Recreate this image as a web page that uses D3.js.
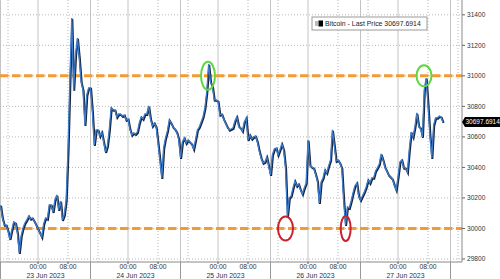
<!DOCTYPE html>
<html>
<head>
<meta charset="utf-8">
<title>Bitcoin - Last Price</title>
<script src="https://d3js.org/d3.v7.min.js"></script>
<style>
  body { margin: 0; background: #fff; }
  text { font-family: "Liberation Sans", Arial, sans-serif; fill: #333; }
</style>
</head>
<body>
<div id="chart"></div>
<script>
// series: one price every 30 minutes, starting 22 Jun 14:00
var seriesStart = "2023-06-22T14:00:00Z";
var stepMinutes = 30;
var prices = [
  30154, 30069, 30023, 30023, 29984, 29931, 29990, 30043, 30036, 29971,
  29840, 29951, 30004, 30036, 30056, 30082, 30063, 30069, 30049, 30023,
  29997, 29971, 29945, 30030, 30069, 30063, 30154, 30154, 30108, 30187,
  30220, 30122, 30180, 30056, 30089, 30187, 30515, 30973, 31379, 30908,
  31137, 31248, 31117, 30960, 30908, 30678, 30875, 30921, 30921, 30763,
  30547, 30646, 30646, 30606, 30632, 30567, 30501, 30541, 30646, 30790,
  30777, 30777, 30731, 30750, 30750, 30737, 30744, 30711, 30718, 30652,
  30613, 30626, 30619, 30632, 30691, 30731, 30718, 30750, 30750, 30803,
  30718, 30672, 30691, 30665, 30560, 30449, 30331, 30528, 30593, 30639,
  30711, 30691, 30665, 30652, 30632, 30587, 30462, 30567, 30593, 30560,
  30580, 30567, 30554, 30521, 30580, 30646, 30665, 30698, 30731, 30790,
  30894, 31078, 30960, 30934, 30842, 30842, 30835, 30744, 30750, 30718,
  30691, 30665, 30646, 30652, 30659, 30704, 30731, 30672, 30659, 30639,
  30698, 30724, 30580, 30613, 30587, 30600, 30606, 30567, 30508, 30462,
  30429, 30436, 30469, 30410, 30351, 30482, 30521, 30528, 30482, 30515,
  30554, 30515, 30397, 30080, 30200, 30213, 30266, 30311, 30279, 30292,
  30253, 30226, 30266, 30298, 30580, 30416, 30403, 30397, 30357, 30311,
  30167, 30305, 30331, 30384, 30364, 30410, 30449, 30646, 30547, 30442,
  30449, 30429, 30397, 30187, 30023, 30141, 30135, 30180, 30233, 30279,
  30298, 30213, 30187, 30213, 30239, 30272, 30318, 30298, 30331, 30331,
  30377, 30397, 30423, 30488, 30449, 30403, 30377, 30351, 30338, 30325,
  30285, 30253, 30338, 30436, 30449, 30397, 30397, 30370, 30515, 30632,
  30600, 30665, 30757, 30672, 30659, 30600, 30908, 30986, 30809, 30613,
  30462, 30678, 30724, 30724, 30737, 30731, 30697.6914
];
var lastPrice = "30697.6914";
var yTicks = [29800, 30000, 30200, 30400, 30600, 30800, 31000, 31200, 31400];
var levels = [31000, 30000];
var tops = [
  { t: "2023-06-24T21:20:00Z", v: 31000, rx: 7, ry: 14 },
  { t: "2023-06-27T06:56:00Z", v: 31000, rx: 7.5, ry: 10.5 }
];
var bottoms = [
  { t: "2023-06-25T18:00:00Z", v: 30000, rx: 7.5, ry: 12 },
  { t: "2023-06-26T10:03:00Z", v: 30000, rx: 5, ry: 12.5 }
];
var dayLabels = ["23 Jun 2023", "24 Jun 2023", "25 Jun 2023", "26 Jun 2023", "27 Jun 2023"];
var hourLabels = ["00:00", "08:00"];

var width = 500, height = 279;
var plotRight = 462, plotBottom = 262;

var svg = d3.select("#chart").append("svg")
    .attr("width", width)
    .attr("height", height);

var x = d3.scaleUtc()
    .domain([new Date("2023-06-22T13:52:00Z"), new Date("2023-06-27T17:04:00Z")])
    .range([0, plotRight]);
var y = d3.scaleLinear()
    .domain([29800, 31400])
    .range([259, 14.8]);

var t0 = new Date(seriesStart);
var data = prices.map(function(p, i) {
  return { t: new Date(+t0 + i * stepMinutes * 60000), v: p };
});

// vertical grid
var days = d3.utcDay.range(new Date("2023-06-22T00:00:00Z"), new Date("2023-06-28T00:00:00Z"));
days.forEach(function(d) {
  [0, 14].forEach(function(h) {
    var xx = x(d3.utcHour.offset(d, h));
    if (xx < 0 || xx > plotRight) return;
    svg.append("line")
      .attr("x1", xx).attr("x2", xx).attr("y1", 0).attr("y2", plotBottom)
      .attr("stroke", "#c4c4c4").attr("stroke-width", 1);
  });
  [8, 16].forEach(function(h) {
    var xx = x(d3.utcHour.offset(d, h));
    if (xx < 0 || xx > plotRight) return;
    svg.append("line")
      .attr("x1", xx).attr("x2", xx).attr("y1", 0).attr("y2", plotBottom)
      .attr("stroke", "#b8b8b8").attr("stroke-width", 1)
      .attr("stroke-dasharray", "1,2");
  });
});

// horizontal grid
svg.selectAll(".hgrid")
  .data(yTicks)
  .enter().append("line")
  .attr("x1", 0).attr("x2", plotRight)
  .attr("y1", function(d) { return y(d); })
  .attr("y2", function(d) { return y(d); })
  .attr("stroke", "#b8b8b8")
  .attr("stroke-dasharray", "1,2");

// orange levels
svg.selectAll(".level")
  .data(levels)
  .enter().append("line")
  .attr("x1", 0).attr("x2", plotRight)
  .attr("y1", function(d) { return y(d); })
  .attr("y2", function(d) { return y(d); })
  .attr("stroke", "#f29a34")
  .attr("stroke-width", 3)
  .attr("stroke-dasharray", "8.5,3.5");

// price line
var line = d3.line()
    .x(function(d) { return x(d.t); })
    .y(function(d) { return y(d.v); });

svg.append("path")
  .datum(data)
  .attr("d", line)
  .attr("fill", "none")
  .attr("stroke", "#15223a")
  .attr("stroke-width", 2)
  .attr("transform", "translate(0.6,0.9)");
svg.append("path")
  .datum(data)
  .attr("d", line)
  .attr("fill", "none")
  .attr("stroke", "#3c7ccc")
  .attr("stroke-width", 1.3);

// annotations
svg.selectAll(".top")
  .data(tops)
  .enter().append("ellipse")
  .attr("cx", function(d) { return x(new Date(d.t)); })
  .attr("cy", function(d) { return y(d.v); })
  .attr("rx", function(d) { return d.rx; })
  .attr("ry", function(d) { return d.ry; })
  .attr("fill", "none")
  .attr("stroke", "#5fd63f")
  .attr("stroke-width", 2);
svg.selectAll(".bottom")
  .data(bottoms)
  .enter().append("ellipse")
  .attr("cx", function(d) { return x(new Date(d.t)); })
  .attr("cy", function(d) { return y(d.v); })
  .attr("rx", function(d) { return d.rx; })
  .attr("ry", function(d) { return d.ry; })
  .attr("fill", "none")
  .attr("stroke", "#c8232c")
  .attr("stroke-width", 2);

// right axis
svg.append("line")
  .attr("x1", plotRight).attr("x2", plotRight).attr("y1", 0).attr("y2", plotBottom)
  .attr("stroke", "#8a8a8a");
var yt = svg.selectAll(".ytick")
  .data(yTicks)
  .enter().append("g")
  .attr("transform", function(d) { return "translate(" + plotRight + "," + y(d) + ")"; });
yt.append("line").attr("x1", 0).attr("x2", 3).attr("stroke", "#666");
yt.append("text")
  .attr("x", 5)
  .attr("dy", "0.35em")
  .style("font-size", "6.6px")
  .text(function(d) { return d; });

// bottom axis
svg.append("line")
  .attr("x1", 0).attr("x2", plotRight).attr("y1", plotBottom).attr("y2", plotBottom)
  .attr("stroke", "#8a8a8a");
days.forEach(function(d, i) {
  hourLabels.forEach(function(lbl, j) {
    var xx = x(d3.utcHour.offset(d, j * 8));
    if (xx < 0 || xx > plotRight) return;
    svg.append("line")
      .attr("x1", xx).attr("x2", xx).attr("y1", plotBottom).attr("y2", plotBottom + 2)
      .attr("stroke", "#555");
    svg.append("text")
      .attr("x", xx).attr("y", 269)
      .attr("text-anchor", "middle")
      .style("font-size", "6.8px")
      .text(lbl);
  });
  var sep = x(d3.utcHour.offset(d, 14));
  if (sep >= 0 && sep <= plotRight) {
    svg.append("line")
      .attr("x1", sep).attr("x2", sep).attr("y1", plotBottom).attr("y2", height)
      .attr("stroke", "#999");
  }
});
days.forEach(function(d) {
  var lbl = d3.utcFormat("%d %b %Y")(d);
  if (dayLabels.indexOf(lbl) < 0) return;
  svg.append("text")
    .attr("x", x(d3.utcHour.offset(d, 2.5)))
    .attr("y", 278)
    .attr("text-anchor", "middle")
    .style("font-size", "6.9px")
    .text(lbl);
});

// last price tag
var ly = y(prices[prices.length - 1]);
svg.append("path")
  .attr("d", "M" + plotRight + "," + ly + "L" + (plotRight + 3) + "," + (ly - 5) +
       "H" + width + "V" + (ly + 5) + "H" + (plotRight + 3) + "Z")
  .attr("fill", "#000");
svg.append("text")
  .attr("x", plotRight + 3.5).attr("y", ly)
  .attr("dy", "0.35em")
  .style("font-size", "6.5px")
  .style("fill", "#fff")
  .text(lastPrice);

// legend
var lg = svg.append("g").attr("transform", "translate(312,17)");
lg.append("rect")
  .attr("width", 115).attr("height", 13)
  .attr("fill", "#fff").attr("stroke", "#999");
lg.append("rect").attr("x", 3).attr("y", 4).attr("width", 3).attr("height", 5).attr("fill", "#bbb");
lg.append("rect").attr("x", 6.5).attr("y", 3.5).attr("width", 4.5).attr("height", 6).attr("fill", "#000");
lg.append("text")
  .attr("x", 13).attr("y", 6.5)
  .attr("dy", "0.35em")
  .style("font-size", "6.9px")
  .style("fill", "#222")
  .text("Bitcoin - Last Price " + lastPrice);
</script>
</body>
</html>
